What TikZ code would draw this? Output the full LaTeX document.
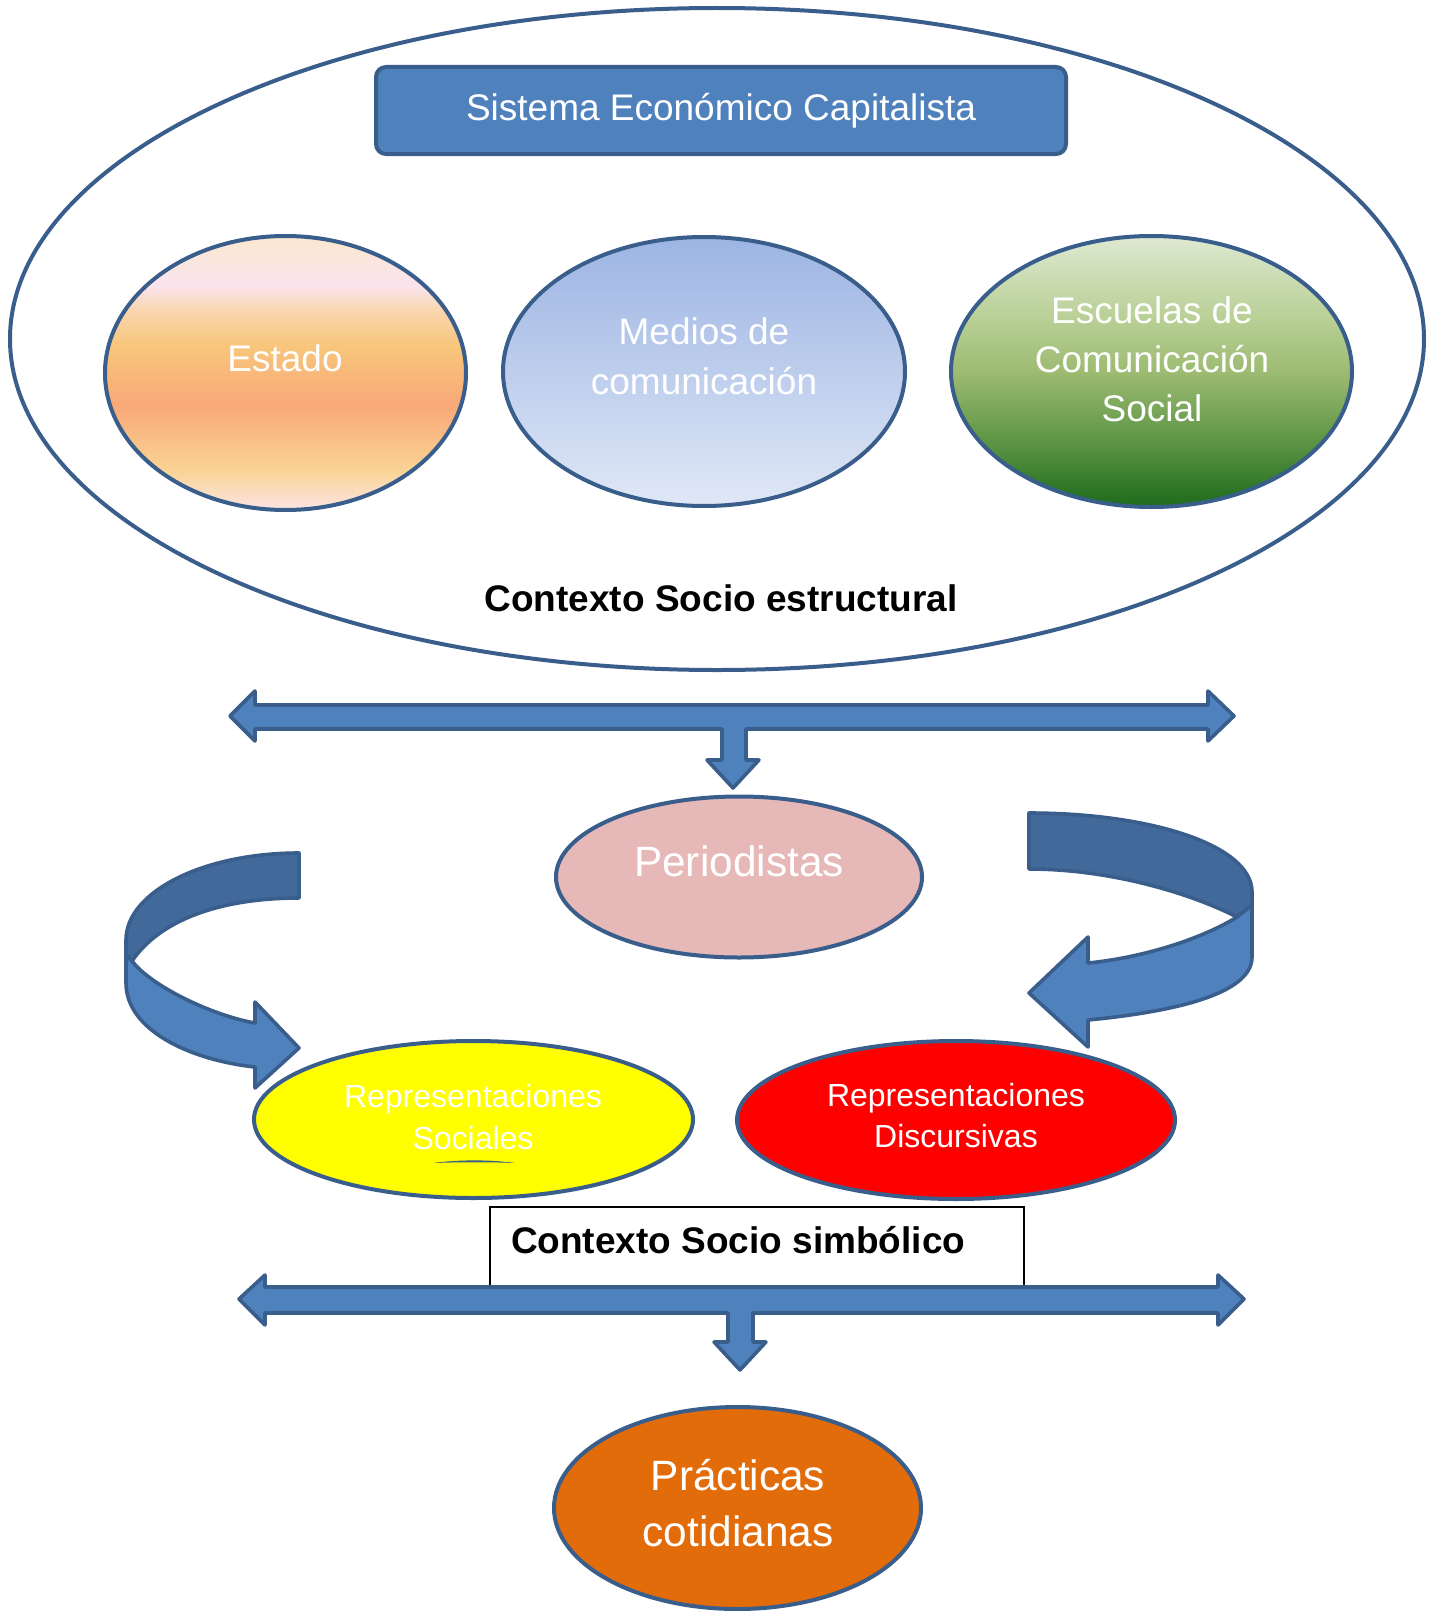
\documentclass[tikz,border=0pt]{standalone}
\usepackage{fontspec}
\setmainfont{Liberation Sans}
\usetikzlibrary{shapes.geometric}

\definecolor{edgeblue}{HTML}{3A5E8C}
\definecolor{fillblue}{HTML}{4F81BD}
\definecolor{darkband}{HTML}{41699A}
\definecolor{periocol}{HTML}{E6B8B7}
\definecolor{praccol}{HTML}{E36C0A}
\definecolor{socyellow}{HTML}{FFFF00}
\definecolor{discred}{HTML}{FF0000}

\definecolor{estA}{HTML}{FCE4E4}
\definecolor{estB}{HTML}{F9D393}
\definecolor{estC}{HTML}{F9A878}
\definecolor{estD}{HTML}{F8C67B}
\definecolor{estE}{HTML}{F9D6B0}
\definecolor{estF}{HTML}{FBE4EE}
\definecolor{estG}{HTML}{FBE8CF}
\pgfdeclareverticalshading{estadoshade}{100bp}{color(0bp)=(estA); color(25bp)=(estA); color(32.5bp)=(estB); color(44bp)=(estC); color(55bp)=(estD); color(61.5bp)=(estE); color(66bp)=(estF); color(75bp)=(estG); color(100bp)=(estG)}

\definecolor{medA}{HTML}{E0E8F6}
\definecolor{medB}{HTML}{BDCDEC}
\definecolor{medC}{HTML}{9DB5E3}
\pgfdeclareverticalshading{mediosshade}{100bp}{color(0bp)=(medA); color(25bp)=(medA); color(50bp)=(medB); color(75bp)=(medC); color(100bp)=(medC)}

\definecolor{escA}{HTML}{1D6A1C}
\definecolor{escB}{HTML}{5F9646}
\definecolor{escC}{HTML}{9DBB72}
\definecolor{escD}{HTML}{B9D096}
\definecolor{escE}{HTML}{DDE9D2}
\pgfdeclareverticalshading{escuelashade}{100bp}{color(0bp)=(escA); color(25bp)=(escA); color(37.5bp)=(escB); color(50bp)=(escC); color(60bp)=(escD); color(75bp)=(escE); color(100bp)=(escE)}

\tikzset{
  every node/.style={inner sep=0pt, outer sep=0pt},
  ell/.style={ellipse, draw=edgeblue, line width=2pt},
  wtext/.style={text=white, align=center},
  bigtext/.style={font=\fontsize{18.5}{25}\selectfont},
  band/.style={draw=edgeblue, line width=1.8pt, line join=round},
  boldlabel/.style={font=\bfseries\fontsize{18.5}{22}\selectfont, text=black},
}

\begin{document}
\begin{tikzpicture}[x=0.5pt, y=-0.5pt]
\useasboundingbox[fill=white] (0,0) rectangle (1434,1611);

% outer ellipse
\node[ell, minimum width=707pt, minimum height=331pt] (outer) at (717,339) {};

% top box
\node[draw=edgeblue, line width=2pt, fill=fillblue, rounded corners=5pt,
      minimum width=345pt, minimum height=43.5pt, wtext, bigtext] (sistema) at (721,110.5) {Sistema Económico Capitalista};

% three ellipses
\node[ell, shade, shading=estadoshade, minimum width=180.5pt, minimum height=137pt] (estado) at (285.5,373) {};
\node[ell, shade, shading=mediosshade, minimum width=201pt, minimum height=134.5pt] (medios) at (704,371.5) {};
\node[ell, shade, shading=escuelashade, minimum width=200.5pt, minimum height=135.5pt] (escuelas) at (1151.5,371.5) {};

\node[wtext, bigtext] (estadotxt) at (285,358) {Estado};
\node[wtext, bigtext] (mediostxt) at (704,356) {Medios de\\comunicación};
\node[wtext, font=\fontsize{18.5}{24.5}\selectfont] (escuelastxt) at (1152,359) {Escuelas de\\Comunicación\\Social};

\node[boldlabel] (estructural) at (721,598) {Contexto Socio estructural};

% top T-arrow
\filldraw[band, fill=fillblue] (230,716) -- (255,691) -- (255,705) -- (1208,705) -- (1208,691) -- (1234,716) -- (1208,741) -- (1208,729) -- (746,729) -- (746,760) -- (759,760) -- (733,788) -- (707,760) -- (722,760) -- (722,729) -- (255,729) -- (255,741) -- cycle;

% Periodistas
\node[ell, fill=periocol, minimum width=183pt, minimum height=80.5pt] (perio) at (739,877) {};
\node[wtext, font=\fontsize{21.2}{26}\selectfont] (periotxt) at (739,861) {Periodistas};

% lower ellipses
\node[ell, fill=socyellow, minimum width=219.5pt, minimum height=78.5pt] (repsoc) at (473.5,1119.5) {};
\node[ell, fill=discred, minimum width=219pt, minimum height=79pt] (repdisc) at (956,1120) {};
\node[wtext, font=\fontsize{16}{21}\selectfont] (repsoctxt) at (473,1117) {Representaciones\\Sociales};
\node[wtext, font=\fontsize{16}{20.5}\selectfont] (repdisctxt) at (956,1116) {Representaciones\\Discursivas};
\fill[edgeblue] (433,1163) .. controls (460,1159.5) and (490,1159.5) .. (515,1163) .. controls (490,1162) and (460,1162) .. (433,1163) -- cycle;

% left curved arrow
\filldraw[band, fill=darkband] (299,853) .. controls (203,853) and (126,892) .. (126,940) -- (126,955) -- (132,961) .. controls (160,920) and (220,898) .. (299,898) -- cycle;
\filldraw[band, fill=fillblue] (132,961) .. controls (150,985) and (210,1015) .. (255,1023) -- (255,1002) -- (299,1048) -- (255,1088) -- (255,1067) .. controls (190,1060) and (126,1030) .. (126,983) -- (126,955) -- cycle;

% right curved arrow
\filldraw[band, fill=darkband] (1029,813) .. controls (1150,813) and (1252,845) .. (1252,892) -- (1252,905) -- (1237,917) .. controls (1190,893) and (1110,869) .. (1029,869) -- cycle;
\filldraw[band, fill=fillblue] (1237,917) .. controls (1200,940) and (1140,958) .. (1088,963) -- (1088,937) -- (1029,993) -- (1088,1047) -- (1088,1020) .. controls (1170,1012) and (1252,995) .. (1252,957) -- (1252,905) -- cycle;

% Contexto Socio simbolico box
\node[draw=black, line width=0.6pt, fill=white, minimum width=267pt, minimum height=39.5pt] (simbbox) at (757,1246.5) {};
\node[boldlabel, anchor=west] (simbtxt) at (511,1240) {Contexto Socio simbólico};

% bottom T-arrow
\filldraw[band, fill=fillblue] (239,1299) -- (265,1275) -- (265,1287) -- (1218,1287) -- (1218,1275) -- (1244,1299) -- (1218,1325) -- (1218,1313) -- (753,1313) -- (753,1342) -- (766,1342) -- (740,1370) -- (714,1342) -- (728,1342) -- (728,1313) -- (265,1313) -- (265,1325) -- cycle;

% Practicas
\node[ell, fill=praccol, minimum width=183.5pt, minimum height=101pt] (prac) at (737.5,1508) {};
\node[wtext, font=\fontsize{21.2}{27.7}\selectfont] (practxt) at (738,1503) {Prácticas\\cotidianas};
\end{tikzpicture}
\end{document}
